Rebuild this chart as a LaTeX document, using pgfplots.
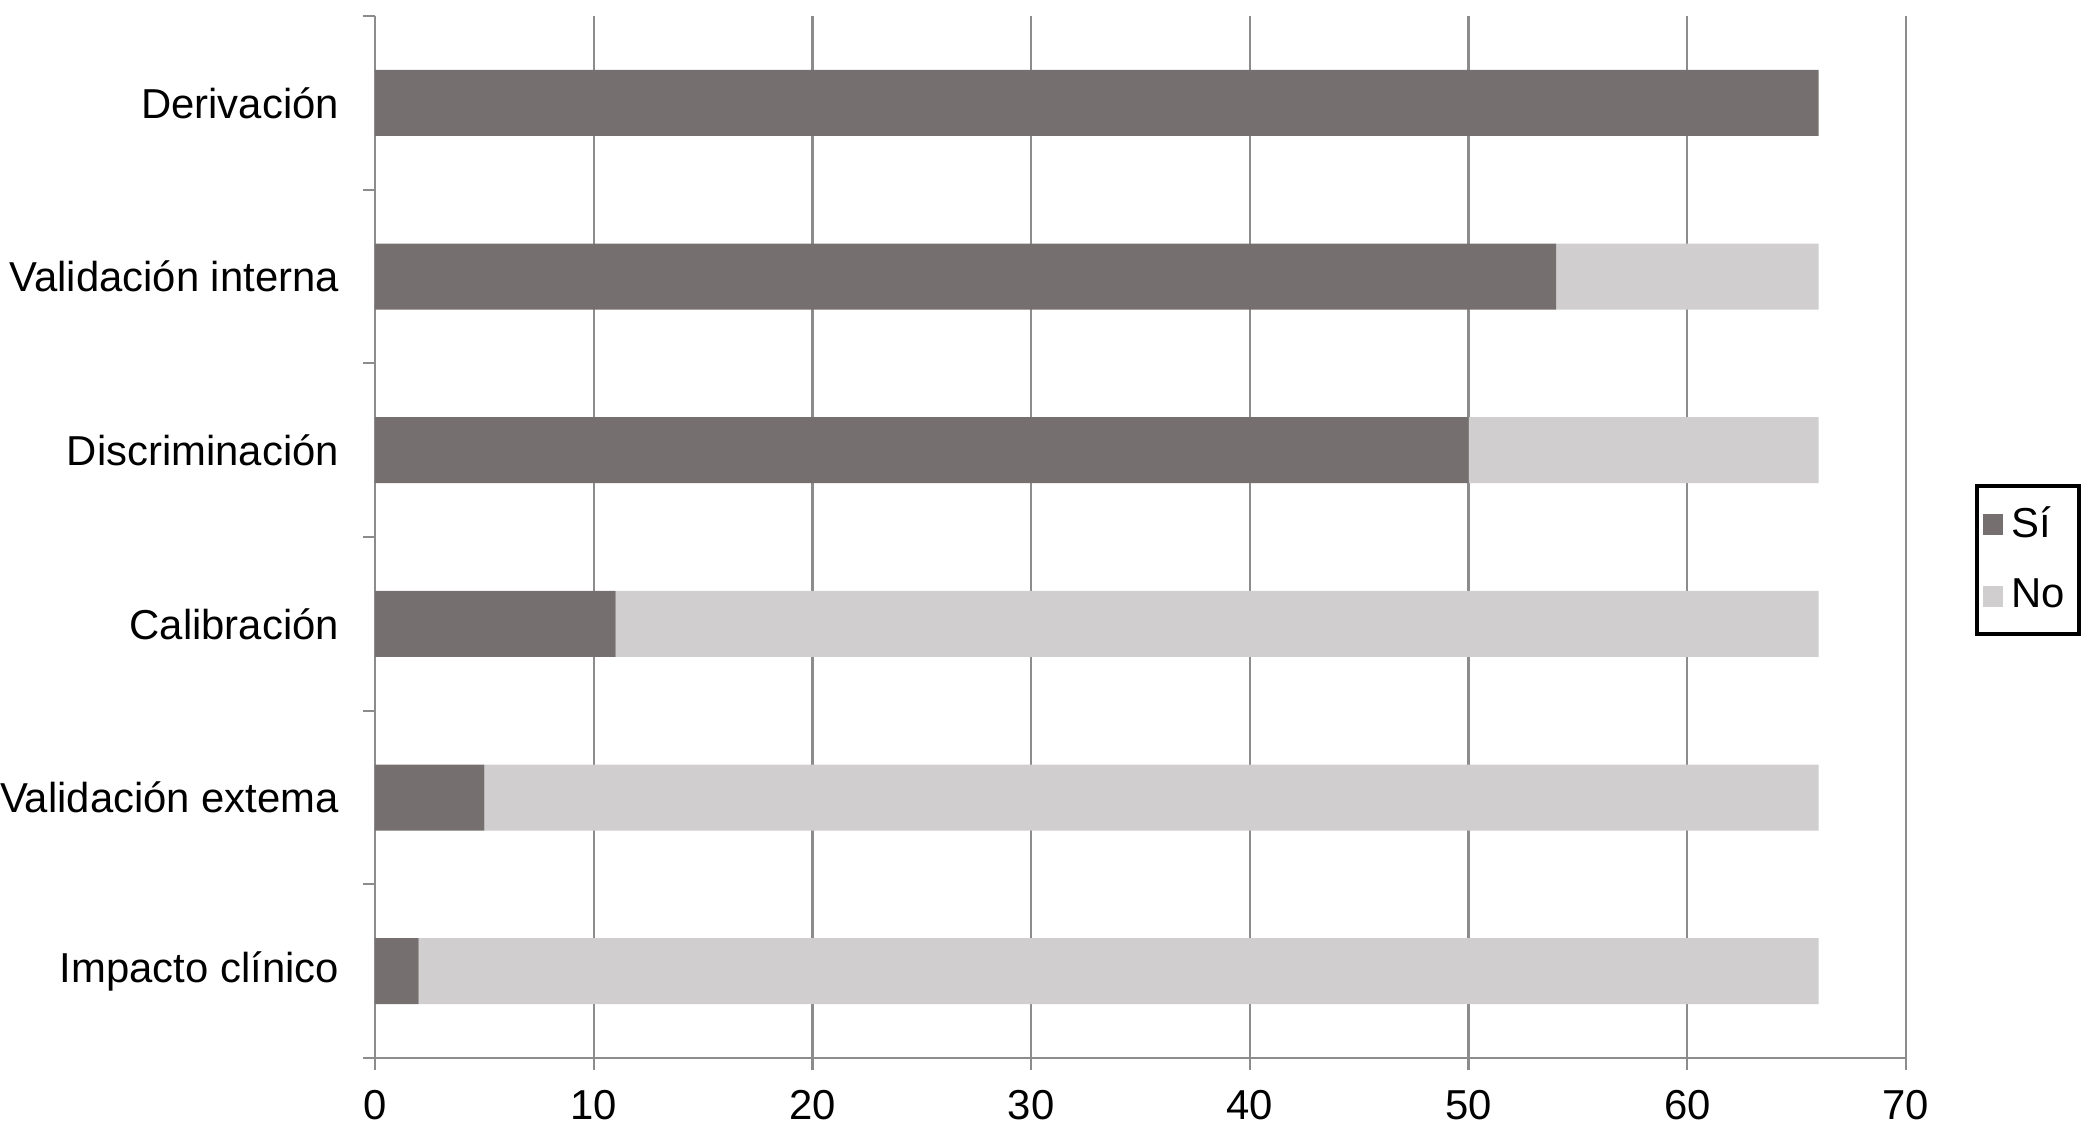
\documentclass[border=0pt]{standalone}
\usepackage{fontspec}
\setmainfont{Liberation Sans}
\usepackage{pgfplots}
\pgfplotsset{compat=1.18}
\definecolor{SiGray}{HTML}{756F6F}
\definecolor{NoGray}{HTML}{D0CECF}
\definecolor{GridGray}{HTML}{8C8C8C}

\begin{document}
\begin{tikzpicture}
% fixed frame: axis corner sits at the origin
\path[use as bounding box] (-93.75bp,-17.75bp) rectangle (428bp,264.5bp);
\begin{axis}[
  at={(0,0)}, anchor=south west,
  scale only axis,
  width=382.75bp, height=260.5bp,
  xbar stacked,
  bar width=0.38,
  font=\fontsize{10.5}{12}\selectfont,
  xmin=0, xmax=70, xtick={0,10,...,70},
  ymin=-0.5, ymax=5.5, y dir=reverse,
  ytick={-0.5,0.5,...,5.5},
  yticklabels={},
  extra y ticks={0,...,5},
  extra y tick labels={Derivación,Validación interna,Discriminación,Calibración,Validación extema\ ,Impacto clínico},
  extra y tick style={major tick length=0pt, yticklabel style={xshift=-5.5bp}},
  axis x line=bottom, axis y line=left,
  axis line style={draw=GridGray, line width=0.7bp, -},
  xmajorgrids, major grid style={draw=GridGray, line width=0.55bp},
  tick style={draw=GridGray, line width=0.55bp},
  major tick length=3bp,
  tick align=outside,
  xtick pos=bottom, ytick pos=left,
  xticklabel style={yshift=-1.5bp},
  /pgf/number format/assume math mode=true,
  legend style={at={(1.045,0.478)}, anchor=west, draw=black, line width=1bp,
    font=\fontsize{10.5}{12}\selectfont, row sep=5bp, inner xsep=1.5bp, inner ysep=3bp},
  legend cell align=left,
  legend image code/.code={\fill[#1] (0.1cm,-0.09cm) rectangle (0.28cm,0.09cm);},
]
\addplot[fill=SiGray, draw=none] coordinates {(66,0) (54,1) (50,2) (11,3) (5,4) (2,5)};
\addlegendentry{Sí}
\addplot[fill=NoGray, draw=none] coordinates {(0,0) (12,1) (16,2) (55,3) (61,4) (64,5)};
\addlegendentry{No}
\end{axis}
\end{tikzpicture}
\end{document}
